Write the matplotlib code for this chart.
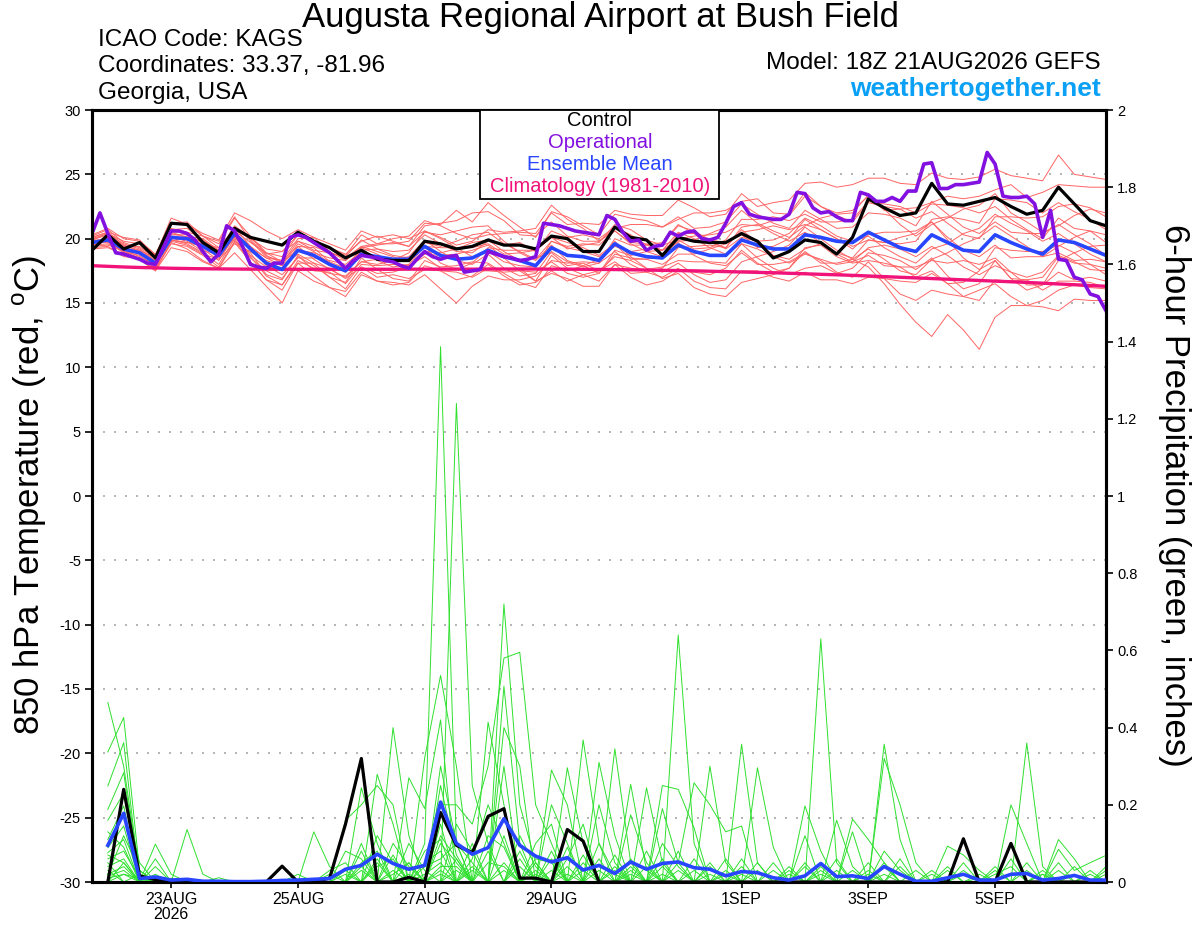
import numpy as np
import pandas as pd
import matplotlib
matplotlib.use('Agg')
import matplotlib.pyplot as plt
from matplotlib.patches import Rectangle

plt.rcParams['font.family'] = ['Liberation Sans', 'DejaVu Sans']
plt.rcParams['mathtext.fontset'] = 'custom'
plt.rcParams['mathtext.rm'] = 'Liberation Sans'

# run start 18Z 21AUG2026, 6-hourly out to 384 h
run_start = pd.Timestamp('2026-08-21 18:00')
times6 = pd.date_range(run_start, periods=65, freq='6h')
times3 = pd.date_range(run_start, periods=129, freq='3h')
times_pcp = times6[1:]

# 850 hPa temperature, control run (6 h)
control_t = [19.1, 20.3, 19.2, 19.7, 18.5, 21.2, 21.1, 19.7, 18.9, 20.8, 20.1, 19.8, 19.5,
             20.5, 19.8, 19.3, 18.5, 19.1, 18.4, 18.3, 18.3, 19.8, 19.6, 19.2, 19.4, 19.9,
             19.5, 19.5, 19.2, 20.2, 20.0, 19.0, 19.0, 20.9, 20.1, 19.9, 18.7, 20.1, 19.8,
             19.7, 19.7, 20.4, 19.8, 18.5, 19.0, 19.9, 19.7, 18.8, 20.1, 23.1, 22.4, 21.8,
             22.0, 24.3, 22.7, 22.6, 22.9, 23.2, 22.5, 21.9, 22.2, 24.0, 22.7, 21.4, 21.0]

# ensemble mean temperature (6 h)
mean_t = [19.7, 19.9, 19.2, 18.9, 18.1, 20.1, 20.0, 19.4, 18.7, 20.4, 19.2, 18.1, 17.6,
          19.1, 18.7, 18.0, 17.5, 18.8, 18.6, 18.4, 18.4, 19.4, 18.7, 18.4, 18.5, 19.1,
          18.6, 18.3, 17.9, 19.3, 18.7, 18.6, 18.3, 19.6, 18.9, 18.6, 18.5, 19.5, 19.0,
          18.7, 18.7, 19.9, 19.5, 19.2, 19.2, 20.3, 20.1, 19.8, 19.7, 20.5, 19.9, 19.3,
          19.0, 20.3, 19.7, 19.1, 19.0, 20.3, 19.7, 19.2, 18.8, 19.9, 19.7, 19.2, 18.7]

# operational run temperature (3 h)
oper_t = [20.4, 22.0, 20.4, 18.9, 18.8, 18.6, 18.4, 18.1, 18.0, 19.3,
          20.6, 20.6, 20.4, 19.9, 19.0, 18.2, 18.8, 21.0, 20.6, 19.4,
          18.0, 17.8, 17.7, 18.1, 18.1, 20.1, 20.3, 20.1, 19.7, 19.3,
          18.9, 18.3, 17.7, 18.3, 18.7, 18.6, 18.5, 18.3, 18.2, 17.9,
          17.7, 18.4, 19.0, 18.6, 18.4, 18.6, 18.7, 17.4, 17.5, 17.6,
          19.0, 18.8, 18.6, 18.5, 18.3, 18.4, 18.6, 21.2, 21.1, 21.0,
          20.8, 20.6, 20.5, 20.4, 20.3, 21.8, 21.5, 20.5, 19.8, 19.9,
          19.1, 19.4, 19.5, 20.5, 20.2, 20.5, 20.6, 20.0, 19.9, 20.1,
          21.2, 22.5, 22.8, 21.9, 21.7, 21.6, 21.5, 21.5, 21.9, 23.6,
          23.5, 22.4, 22.0, 22.1, 21.7, 21.4, 21.4, 23.6, 23.4, 22.9,
          22.9, 23.2, 22.9, 23.7, 23.7, 25.8, 25.9, 23.9, 23.9, 24.2,
          24.2, 24.3, 24.4, 26.7, 25.8, 23.3, 23.2, 23.2, 23.3, 22.7,
          20.1, 22.2, 18.4, 18.3, 17.0, 16.8, 15.7, 15.5, 14.4]

# 1981-2010 climatology
clim_t = [17.90, 17.85, 17.80, 17.76, 17.73, 17.70, 17.68, 17.66, 17.65, 17.64, 17.63,
          17.63, 17.62, 17.62, 17.62, 17.62, 17.62, 17.62, 17.62, 17.62, 17.63, 17.63,
          17.63, 17.63, 17.63, 17.64, 17.64, 17.64, 17.64, 17.63, 17.63, 17.62, 17.61,
          17.60, 17.58, 17.56, 17.54, 17.52, 17.50, 17.47, 17.44, 17.41, 17.38, 17.35,
          17.31, 17.27, 17.23, 17.19, 17.15, 17.10, 17.05, 17.00, 16.95, 16.90, 16.85,
          16.80, 16.75, 16.70, 16.65, 16.60, 16.54, 16.48, 16.42, 16.36, 16.30]

# ensemble members, temperature
temp_members = [
    [20.3, 20.8, 20.0, 19.8, 18.8, 21.1, 21.1, 20.2, 19.6, 21.6, 20.2, 18.9, 18.6, 20.3, 19.7, 19.3,
     18.7, 20.3, 19.6, 20.0, 20.2, 21.4, 21.0, 20.4, 20.0, 20.3, 20.4, 20.5, 20.4, 22.0, 21.1, 21.2,
     21.1, 22.2, 21.9, 21.8, 21.8, 23.0, 22.4, 21.7, 21.9, 23.5, 22.5, 22.8, 23.0, 24.3, 24.4, 24.0,
     24.2, 24.7, 24.7, 24.3, 24.2, 25.1, 24.7, 24.6, 24.8, 25.4, 24.9, 24.7, 24.5, 26.5, 25.0, 24.8, 24.6],
    [20.1, 20.5, 19.5, 19.1, 18.3, 20.5, 20.1, 19.8, 19.1, 21.0, 20.1, 18.8, 19.0, 20.3, 19.7, 19.3,
     18.8, 19.8, 20.2, 19.8, 19.4, 21.0, 21.2, 21.4, 22.0, 22.1, 21.4, 20.3, 20.2, 21.3, 20.2, 19.8,
     19.8, 20.8, 21.1, 21.1, 20.9, 21.5, 22.0, 22.0, 22.2, 22.9, 23.1, 22.0, 21.9, 23.6, 22.5, 22.0,
     22.2, 23.3, 22.2, 22.3, 22.4, 22.8, 23.3, 23.1, 23.3, 23.8, 24.2, 23.2, 23.6, 24.2, 24.1, 24.0, 24.0],
    [19.5, 19.6, 19.0, 18.5, 17.7, 19.6, 19.4, 18.7, 17.8, 19.8, 18.9, 17.2, 16.8, 18.7, 17.5, 17.4,
     16.5, 18.0, 17.9, 18.0, 17.9, 18.8, 18.7, 18.8, 19.1, 19.5, 18.5, 17.5, 16.7, 18.7, 17.7, 17.2,
     16.7, 18.0, 17.0, 16.4, 16.7, 17.5, 17.4, 17.2, 17.7, 19.1, 18.1, 17.4, 17.7, 19.0, 18.1, 18.1,
     18.4, 17.8, 16.5, 14.9, 13.5, 12.4, 14.1, 12.9, 11.4, 13.9, 14.8, 14.8, 15.2, 16.0, 16.4, 16.2, 16.1],
    [19.2, 19.3, 18.8, 18.4, 17.5, 19.3, 19.0, 18.2, 17.7, 18.9, 17.6, 16.3, 15.0, 17.5, 16.7, 16.2,
     15.9, 17.4, 16.7, 16.6, 16.4, 17.2, 16.1, 15.0, 16.3, 17.1, 16.8, 16.8, 17.1, 18.3, 18.1, 18.2,
     18.1, 19.0, 18.0, 17.4, 17.0, 17.7, 16.7, 16.2, 16.1, 17.5, 17.5, 17.0, 16.7, 17.4, 16.8, 16.8,
     16.5, 17.0, 16.9, 15.7, 15.2, 16.0, 15.7, 15.5, 16.0, 16.5, 15.5, 14.8, 14.7, 14.4, 15.3, 15.2, 15.2],
    [20.0, 20.4, 19.8, 19.6, 18.7, 21.2, 21.3, 20.2, 19.8, 21.7, 19.8, 18.6, 18.3, 20.0, 20.1, 19.6,
     19.1, 20.6, 20.1, 20.3, 20.0, 20.6, 20.1, 19.5, 19.8, 20.7, 20.5, 20.6, 20.8, 22.6, 21.5, 20.8,
     19.8, 20.6, 19.7, 19.6, 19.1, 20.0, 20.2, 20.3, 20.5, 21.1, 21.0, 21.4, 21.8, 23.3, 22.5, 21.8,
     21.3, 22.8, 22.5, 22.3, 21.6, 22.1, 21.2, 20.3, 20.0, 21.7, 21.7, 21.6, 21.7, 22.5, 22.7, 22.4, 21.7],
    [19.7, 20.1, 19.3, 18.8, 18.2, 20.4, 20.1, 19.2, 18.3, 20.2, 18.6, 17.1, 16.4, 18.3, 17.7, 17.3,
     17.1, 18.2, 18.4, 18.4, 18.6, 19.9, 19.0, 18.3, 18.0, 18.8, 17.7, 17.1, 17.3, 19.0, 18.2, 17.8,
     18.1, 20.0, 19.5, 19.5, 19.7, 21.1, 20.4, 19.7, 19.3, 20.7, 19.7, 18.7, 18.4, 19.2, 19.6, 18.8,
     18.2, 18.7, 17.9, 17.8, 17.8, 18.3, 18.1, 18.3, 18.0, 18.5, 17.4, 16.4, 16.4, 17.4, 16.8, 17.0, 16.7],
    [20.2, 20.7, 19.7, 19.3, 18.5, 20.8, 20.5, 20.2, 19.3, 20.7, 20.0, 19.2, 19.0, 19.8, 19.1, 18.9,
     18.5, 19.4, 19.0, 18.6, 18.2, 19.4, 18.1, 17.6, 18.1, 19.3, 19.1, 19.1, 19.1, 20.1, 19.2, 19.5,
     19.7, 21.1, 20.7, 19.9, 19.5, 19.9, 19.2, 19.3, 19.9, 21.5, 21.5, 21.7, 21.4, 21.9, 21.3, 21.3,
     21.5, 22.9, 22.7, 22.5, 22.0, 22.7, 22.6, 22.4, 22.0, 22.5, 21.5, 20.7, 20.0, 21.6, 20.8, 20.6, 19.7],
    [19.4, 19.5, 19.1, 18.9, 17.9, 19.8, 19.5, 18.8, 18.4, 19.6, 19.0, 18.3, 17.9, 18.8, 18.1, 17.0,
     16.1, 17.8, 17.0, 17.2, 16.9, 17.6, 17.5, 17.4, 17.0, 17.7, 17.6, 17.7, 16.7, 17.3, 16.9, 16.3,
     16.3, 18.0, 17.7, 17.6, 17.8, 18.3, 18.2, 18.2, 18.1, 19.6, 18.5, 17.7, 17.2, 17.7, 17.9, 17.3,
     17.7, 18.9, 18.7, 18.3, 17.6, 18.5, 17.1, 16.1, 16.5, 18.3, 16.9, 16.8, 17.0, 18.6, 18.1, 18.0, 17.7],
    [19.9, 20.3, 19.4, 19.4, 18.6, 20.7, 20.8, 19.9, 19.0, 20.2, 18.7, 17.8, 17.6, 19.4, 19.3, 18.2,
     17.7, 19.3, 19.5, 19.7, 19.4, 20.5, 20.3, 20.6, 20.9, 21.0, 19.8, 18.9, 18.3, 19.5, 18.3, 17.9,
     17.3, 18.8, 18.5, 18.4, 18.0, 18.8, 18.8, 19.2, 19.6, 20.5, 20.7, 21.0, 20.7, 21.1, 20.7, 20.0,
     19.4, 19.9, 19.7, 19.6, 19.8, 21.5, 21.7, 21.5, 21.2, 23.1, 23.0, 22.8, 22.0, 22.8, 22.1, 21.5, 20.7],
    [19.3, 19.4, 18.6, 18.5, 17.6, 19.7, 19.2, 18.3, 17.7, 19.7, 18.2, 16.8, 16.4, 18.1, 17.1, 16.2,
     15.5, 17.2, 16.7, 16.4, 16.6, 17.9, 17.5, 16.8, 17.1, 18.0, 17.1, 16.4, 16.6, 17.5, 16.7, 17.2,
     17.5, 18.6, 18.3, 17.7, 16.9, 17.3, 16.2, 15.7, 15.5, 16.6, 16.9, 17.2, 17.7, 19.3, 19.5, 18.6,
     18.1, 18.3, 18.1, 17.8, 17.0, 17.5, 16.5, 15.5, 15.2, 16.8, 16.7, 16.8, 16.0, 16.7, 16.7, 16.6, 16.2],
    [20.1, 20.5, 20.1, 19.9, 18.7, 21.6, 21.1, 20.4, 19.9, 22.0, 21.4, 20.6, 20.0, 20.7, 20.1, 19.0,
     18.3, 19.4, 19.6, 19.6, 19.8, 21.2, 21.1, 22.2, 21.3, 22.8, 21.8, 20.9, 20.1, 22.1, 21.7, 21.0,
     20.3, 21.9, 21.6, 21.4, 20.9, 21.7, 20.8, 20.9, 21.3, 22.7, 21.9, 21.2, 20.8, 22.2, 21.5, 20.8,
     20.9, 22.0, 21.9, 21.6, 21.0, 22.9, 21.9, 20.9, 20.4, 21.3, 20.5, 20.4, 20.4, 21.1, 20.3, 19.6, 18.7],
    [19.6, 20.0, 19.2, 19.1, 18.5, 19.9, 19.7, 19.6, 19.3, 20.6, 19.7, 18.9, 18.2, 19.1, 18.9, 18.5,
     18.3, 19.3, 18.8, 18.1, 17.9, 18.6, 17.7, 17.7, 17.5, 17.5, 17.4, 17.5, 17.4, 18.2, 17.3, 17.0,
     17.3, 19.1, 18.7, 19.0, 19.1, 19.7, 18.7, 18.1, 17.9, 18.9, 18.0, 18.0, 18.2, 18.9, 18.3, 17.4,
     17.0, 18.2, 16.9, 16.7, 16.6, 17.3, 16.5, 16.6, 17.5, 19.3, 19.1, 19.0, 19.0, 19.5, 18.9, 18.0, 17.2],
    [19.8, 19.7, 18.9, 18.9, 18.3, 20.1, 19.8, 19.0, 18.9, 20.9, 19.4, 17.9, 17.2, 18.5, 18.5, 18.3,
     18.0, 19.0, 18.3, 17.8, 18.0, 19.4, 19.3, 19.3, 19.3, 19.6, 18.8, 18.9, 19.1, 20.1, 19.7, 19.3,
     18.7, 19.6, 18.4, 18.4, 18.7, 20.4, 20.4, 19.9, 19.7, 20.3, 19.3, 19.4, 20.0, 21.5, 20.7, 20.0,
     19.2, 20.3, 20.5, 20.5, 20.6, 21.3, 20.1, 19.1, 18.6, 19.5, 18.5, 18.6, 18.6, 18.9, 18.3, 18.4, 18.2],
    [19.9, 19.9, 19.0, 18.4, 17.5, 19.8, 20.2, 20.0, 19.1, 19.9, 18.2, 16.8, 16.0, 18.1, 18.1, 17.7,
     16.9, 17.8, 17.3, 17.4, 17.8, 19.0, 18.9, 19.2, 19.7, 19.9, 19.0, 18.3, 18.5, 18.9, 17.9, 18.1,
     17.5, 18.2, 17.3, 17.4, 17.7, 19.3, 19.4, 19.5, 19.3, 20.9, 21.1, 20.4, 19.8, 20.5, 19.7, 18.9,
     18.5, 19.9, 19.7, 20.1, 20.4, 21.3, 19.9, 18.5, 17.6, 18.3, 16.9, 16.0, 16.4, 18.3, 18.9, 19.4, 19.5],
    [19.9, 20.4, 19.6, 19.2, 18.3, 20.6, 20.4, 19.6, 18.8, 20.9, 19.9, 18.7, 18.1, 19.8, 19.4, 18.9,
     18.6, 19.9, 19.2, 18.7, 18.5, 19.7, 19.4, 19.8, 20.3, 20.5, 19.6, 19.0, 18.4, 19.8, 19.4, 19.6,
     19.5, 20.6, 19.6, 19.0, 18.6, 19.8, 19.9, 20.4, 20.9, 22.2, 21.2, 20.6, 20.1, 21.0, 21.6, 21.9,
     22.0, 23.4, 22.3, 21.1, 20.2, 21.1, 21.6, 22.3, 22.6, 23.5, 22.0, 21.3, 20.5, 21.0, 21.8, 22.3, 22.0],
    [19.5, 19.8, 19.0, 18.7, 17.8, 19.9, 19.6, 18.9, 18.0, 20.0, 18.5, 17.5, 16.9, 18.6, 17.9, 17.0,
     16.6, 18.5, 17.6, 16.9, 16.7, 18.3, 17.8, 17.9, 18.2, 18.1, 17.3, 16.6, 16.2, 17.9, 17.5, 17.9,
     18.4, 19.8, 18.6, 17.7, 17.4, 18.1, 17.2, 16.6, 16.8, 18.2, 18.6, 19.0, 19.5, 20.9, 20.0, 19.1,
     18.4, 19.2, 18.4, 17.5, 17.2, 18.4, 18.9, 19.6, 20.1, 21.0, 20.2, 19.4, 18.6, 19.4, 20.1, 20.6, 20.3],
    [19.6, 20.2, 19.5, 19.0, 18.0, 20.3, 20.3, 19.7, 19.1, 20.5, 19.4, 18.5, 17.9, 19.6, 19.0, 18.1,
     17.4, 19.1, 19.2, 19.0, 19.1, 20.3, 19.6, 19.0, 18.9, 19.8, 19.5, 19.7, 19.0, 20.6, 20.1, 20.3,
     20.0, 20.9, 20.3, 19.5, 19.1, 20.5, 20.0, 19.3, 18.8, 19.6, 19.2, 18.6, 18.1, 18.8, 18.4, 18.0,
     18.2, 19.3, 19.5, 19.2, 18.6, 19.4, 18.7, 17.8, 17.2, 17.9, 17.4, 17.0, 17.4, 18.7, 18.2, 17.6, 17.5],
    [19.8, 20.0, 19.1, 18.6, 18.0, 19.9, 19.7, 19.4, 18.5, 20.1, 19.3, 18.5, 18.3, 19.4, 18.4, 17.6,
     17.0, 18.2, 18.0, 18.3, 18.9, 20.6, 20.0, 19.3, 18.6, 19.0, 18.2, 17.9, 17.8, 19.8, 19.3, 19.0,
     18.6, 19.4, 19.0, 19.2, 19.6, 21.0, 20.6, 19.9, 19.2, 20.1, 19.8, 19.9, 20.4, 21.6, 21.0, 20.2,
     19.8, 20.2, 19.3, 18.6, 18.1, 19.2, 19.6, 20.4, 20.8, 21.9, 21.2, 20.6, 19.8, 20.4, 19.6, 18.8, 18.2],
]

# 6-hour precipitation (inches), fh 6..384
control_p = [0, 0.24, 0.016, 0.006, 0.004, 0, 0, 0, 0, 0, 0, 0.041, 0, 0, 0.01, 0.15,
             0.32, 0, 0, 0.012, 0, 0.18, 0.095, 0.076, 0.17, 0.19, 0.01, 0.01, 0, 0.136, 0.106, 0,
             0, 0, 0, 0, 0, 0, 0, 0, 0, 0, 0, 0, 0, 0, 0, 0,
             0, 0, 0, 0, 0, 0, 0.112, 0, 0, 0.10, 0, 0, 0, 0, 0, 0]

mean_p = [0.095, 0.178, 0.009, 0.013, 0.005, 0.007, 0.002, 0.002, 0.001, 0.001, 0.002, 0.004,
          0.005, 0.007, 0.009, 0.033, 0.043, 0.072, 0.048, 0.033, 0.043, 0.207, 0.10, 0.072,
          0.089, 0.164, 0.095, 0.067, 0.052, 0.063, 0.031, 0.043, 0.022, 0.052, 0.033, 0.048,
          0.052, 0.037, 0.033, 0.016, 0.027, 0.024, 0.011, 0.005, 0.016, 0.048, 0.014, 0.016,
          0.009, 0.040, 0.02, 0.002, 0.002, 0.011, 0.02, 0.005, 0.005, 0.02, 0.022, 0.005,
          0.009, 0.017, 0.005, 0.005]

# members: forecast step index -> amount, other steps are dry
precip_members = [
    {1: 0.465, 2: 0.30, 3: 0.02, 19: 0.40, 20: 0.12, 22: 0.30, 23: 0.10, 26: 0.72, 27: 0.2, 28: 0.05, 37: 0.64, 38: 0.1, 50: 0.05},
    {1: 0.337, 2: 0.426, 3: 0.03, 21: 0.10, 22: 1.387, 23: 0.1, 24: 0.05, 30: 0.296, 31: 0.1, 41: 0.357, 42: 0.05},
    {1: 0.249, 2: 0.361, 4: 0.098, 5: 0.02, 18: 0.279, 19: 0.15, 23: 1.24, 24: 0.25, 25: 0.1, 33: 0.345, 34: 0.05, 46: 0.63, 47: 0.05},
    {1: 0.188, 2: 0.283, 6: 0.136, 7: 0.02, 17: 0.244, 18: 0.1, 21: 0.322, 22: 0.535, 23: 0.3, 26: 0.507, 27: 0.1, 31: 0.368, 32: 0.1, 50: 0.357, 51: 0.11},
    {1: 0.11, 2: 0.197, 14: 0.13, 15: 0.04, 20: 0.27, 21: 0.19, 22: 0.42, 25: 0.414, 26: 0.2, 35: 0.244, 36: 0.05, 59: 0.36, 60: 0.04},
    {1: 0.089, 2: 0.145, 16: 0.16, 17: 0.2, 18: 0.25, 19: 0.2, 22: 0.2, 23: 0.2, 24: 0.15, 25: 0.3, 26: 0.58, 27: 0.595, 28: 0.2, 29: 0.1, 39: 0.30, 40: 0.05},
    {1: 0.076, 2: 0.11, 4: 0.06, 16: 0.08, 17: 0.06, 22: 0.15, 26: 0.40, 27: 0.3, 29: 0.29, 30: 0.2, 32: 0.31, 33: 0.12, 42: 0.296, 43: 0.09},
    {1: 0.06, 2: 0.08, 3: 0.01, 15: 0.03, 16: 0.05, 19: 0.07, 22: 0.1, 23: 0.05, 26: 0.3, 28: 0.1, 29: 0.15, 34: 0.253, 35: 0.03, 45: 0.197, 46: 0.08, 58: 0.10},
    {1: 0.04, 2: 0.06, 4: 0.04, 18: 0.05, 21: 0.05, 22: 0.08, 24: 0.06, 25: 0.2, 26: 0.1, 30: 0.06, 31: 0.15, 36: 0.25, 37: 0.24, 38: 0.14, 48: 0.163, 49: 0.11, 50: 0.05},
    {1: 0.02, 2: 0.04, 17: 0.1, 20: 0.05, 22: 0.12, 23: 0.06, 28: 0.06, 29: 0.05, 32: 0.2, 33: 0.05, 36: 0.19, 37: 0.05, 38: 0.257, 39: 0.2, 40: 0.13, 41: 0.145, 48: 0.13, 50: 0.32, 51: 0.2, 52: 0.05},
    {1: 0.01, 2: 0.02, 3: 0.01, 19: 0.03, 21: 0.04, 22: 0.06, 23: 0.1, 26: 0.05, 30: 0.04, 34: 0.174, 35: 0.05, 45: 0.12, 47: 0.16, 48: 0.04, 54: 0.093, 55: 0.07, 56: 0.03, 58: 0.2, 59: 0.1, 61: 0.11, 62: 0.06},
    {2: 0.02, 5: 0.01, 18: 0.04, 19: 0.06, 22: 0.03, 24: 0.04, 27: 0.04, 29: 0.03, 33: 0.03, 37: 0.03, 41: 0.04, 44: 0.03, 49: 0.03, 51: 0.04, 55: 0.03, 57: 0.04, 61: 0.085, 62: 0.03, 63: 0.05, 64: 0.069},
    {1: 0.03, 8: 0.011, 16: 0.02, 19: 0.02, 20: 0.05, 23: 0.03, 25: 0.05, 26: 0.04, 28: 0.03, 31: 0.05, 34: 0.04, 36: 0.02, 40: 0.03, 43: 0.05, 46: 0.02, 50: 0.04, 53: 0.02, 56: 0.01, 60: 0.02},
    {1: 0.05, 3: 0.02, 13: 0.02, 17: 0.03, 21: 0.02, 22: 0.05, 24: 0.1, 27: 0.06, 30: 0.09, 32: 0.06, 35: 0.04, 38: 0.06, 42: 0.03, 45: 0.04, 52: 0.03, 54: 0.04, 59: 0.03, 62: 0.02, 64: 0.03},
    {1: 0.015, 2: 0.03, 17: 0.05, 18: 0.08, 22: 0.04, 23: 0.04, 25: 0.08, 29: 0.08, 31: 0.03, 33: 0.07, 36: 0.06, 39: 0.05, 44: 0.02, 47: 0.03, 50: 0.08, 51: 0.03, 57: 0.02, 58: 0.04, 61: 0.03, 63: 0.02},
    {2: 0.05, 4: 0.01, 20: 0.02, 22: 0.02, 26: 0.03, 28: 0.02, 32: 0.03, 34: 0.02, 37: 0.05, 39: 0.02, 41: 0.06, 46: 0.04, 49: 0.02, 55: 0.05, 60: 0.03, 64: 0.02},
    {1: 0.07, 2: 0.05, 16: 0.03, 18: 0.06, 21: 0.08, 22: 0.11, 24: 0.03, 27: 0.12, 28: 0.04, 30: 0.02, 33: 0.04, 35: 0.08, 38: 0.03, 40: 0.02, 43: 0.03, 47: 0.06, 50: 0.02, 54: 0.03, 58: 0.06, 62: 0.04},
    {1: 0.13, 2: 0.09, 4: 0.02, 17: 0.04, 19: 0.1, 20: 0.04, 23: 0.06, 25: 0.12, 26: 0.09, 28: 0.05, 31: 0.07, 34: 0.03, 36: 0.1, 37: 0.04, 41: 0.02, 45: 0.05, 48: 0.03, 55: 0.02, 59: 0.05, 63: 0.03},
    {1: 0.02, 2: 0.12, 3: 0.03, 15: 0.02, 17: 0.08, 20: 0.1, 21: 0.03, 23: 0.15, 24: 0.08, 26: 0.12, 29: 0.06, 32: 0.1, 33: 0.02, 37: 0.08, 39: 0.04, 42: 0.05, 46: 0.03, 51: 0.06, 56: 0.02, 61: 0.05, 64: 0.04},
    {1: 0.16, 2: 0.23, 3: 0.05, 18: 0.12, 19: 0.05, 22: 0.25, 23: 0.07, 27: 0.08, 29: 0.2, 30: 0.1, 34: 0.06, 36: 0.04, 40: 0.06, 44: 0.04, 49: 0.05, 53: 0.03, 57: 0.03, 60: 0.02},
]

tick_dates = ['2026-08-23', '2026-08-25', '2026-08-27', '2026-08-29',
              '2026-09-01', '2026-09-03', '2026-09-05']
tick_labels = ['23AUG\n2026', '25AUG', '27AUG', '29AUG', '1SEP', '3SEP', '5SEP']

assert all(len(m) == 65 for m in temp_members)
assert len(oper_t) == 129 and len(clim_t) == 65 and len(control_p) == 64


def main():
    fig = plt.figure(figsize=(12, 9.27), dpi=100)
    W, H = 1200, 927
    ax = fig.add_axes([92 / W, 1 - 882 / H, (1106 - 92) / W, (882 - 110) / H])
    ax2 = ax.twinx()

    # temperature side
    for y in range(-25, 30, 5):
        ax.axhline(y, color='#a8a8a8', lw=1.2, ls=(0, (1.2, 5.4)), zorder=0.5)
    for m in temp_members:
        ax.plot(times6, m, color='#ff6464', lw=0.7, zorder=2)
    ax.plot(times6, clim_t, color='#f0147a', lw=2.4, zorder=3)
    ax.plot(times6, mean_t, color='#2845ff', lw=2.6, zorder=4)
    ax.plot(times6, control_t, color='black', lw=2.3, zorder=5)
    ax.plot(times3, oper_t, color='#8210e0', lw=2.6, zorder=6)

    # precipitation side
    for m in precip_members:
        vals = [m.get(i, 0.0) for i in range(1, 65)]
        ax2.plot(times_pcp, vals, color='#2ee02e', lw=0.7, zorder=2)
    ax2.plot(times_pcp, control_p, color='black', lw=2.3, zorder=4)
    ax2.plot(times_pcp, mean_p, color='#2845ff', lw=2.6, zorder=5)

    ax.set_xlim(times6[0], times6[-1])
    ax.set_ylim(-30, 30)
    ax2.set_ylim(0, 2)
    ax.set_yticks(range(-30, 31, 5))
    ax.set_yticklabels([str(v) for v in range(-30, 31, 5)])
    pt = np.round(np.arange(0, 2.01, 0.2), 1)
    ax2.set_yticks(pt)
    ax2.set_yticklabels([f'{v:g}' for v in pt])
    ax.set_xticks(pd.to_datetime(tick_dates))
    ax.set_xticklabels(tick_labels, fontsize=11.5, linespacing=1.05)

    ax.tick_params(axis='y', direction='out', length=5, width=1.2, labelsize=10.5, pad=3)
    ax2.tick_params(axis='y', direction='out', length=5, width=1.2, labelsize=10.5, pad=3)
    ax.tick_params(axis='x', direction='out', length=4, width=1.2, pad=3)
    for a in (ax, ax2):
        for s in a.spines.values():
            s.set_linewidth(2.2)

    # legend box
    fig.patches.append(Rectangle((480 / W, 1 - 199 / H), (719 - 480) / W, 89 / H,
                                 transform=fig.transFigure, facecolor='white',
                                 edgecolor='black', lw=1.3, zorder=10))
    leg = [('Control', 'black', 121), ('Operational', '#8210e0', 142),
           ('Ensemble Mean', '#2845ff', 164), ('Climatology (1981-2010)', '#f0147a', 186)]
    for txt, col, yy in leg:
        fig.text(600 / W, 1 - yy / H, txt, color=col, fontsize=14.5,
                 ha='center', va='center', zorder=11)

    # headers
    fig.text(0.5, 1 - 18 / H, 'Augusta Regional Airport at Bush Field',
             fontsize=25, ha='center', va='center')
    fig.text(98 / W, 1 - 40 / H, 'ICAO Code: KAGS', fontsize=17.5, va='center')
    fig.text(98 / W, 1 - 66 / H, 'Coordinates: 33.37, -81.96', fontsize=17.5, va='center')
    fig.text(98 / W, 1 - 93 / H, 'Georgia, USA', fontsize=17.5, va='center')
    fig.text(1101 / W, 1 - 63 / H, 'Model: 18Z 21AUG2026 GEFS', fontsize=17.5,
             ha='right', va='center')
    fig.text(1101 / W, 1 - 89 / H, 'weathertogether.net', fontsize=19, weight='bold',
             color='#0aa0f5', ha='right', va='center')

    fig.text(30 / W, 1 - 495 / H, '850 hPa Temperature (red, $^{\\mathrm{o}}$C)', fontsize=25,
             rotation=90, ha='center', va='center')
    fig.text(1175 / W, 1 - 495 / H, '6-hour Precipitation (green, inches)', fontsize=25,
             rotation=270, ha='center', va='center')

    fig.savefig('out.png', dpi=100)


if __name__ == '__main__':
    main()
